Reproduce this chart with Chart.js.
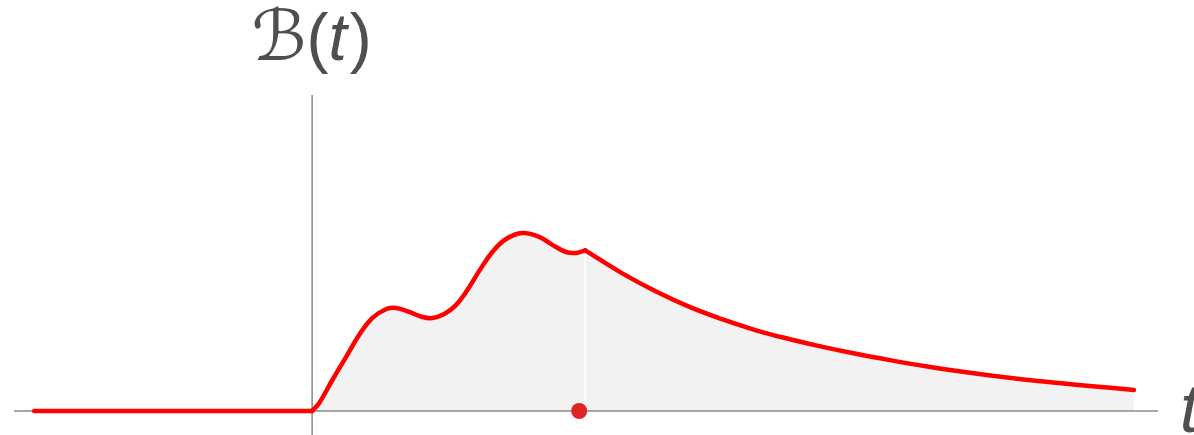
<!DOCTYPE html>
<html>
<head>
<meta charset="utf-8">
<script src="https://cdn.jsdelivr.net/npm/chart.js@4.4.0/dist/chart.umd.min.js"></script>
<style>
  html, body { margin: 0; padding: 0; background: #fff; }
  .chart-box { width: 1194px; height: 435px; position: relative; }
</style>
</head>
<body>
<div class="chart-box"><canvas id="chart"></canvas></div>
<script>
// B(t) is zero before t = 0
const flatT = [-5.09, 0];
const flatB = [0, 0];

// two bumps, up to the kink at t = 5
const riseT = [0, 0.13, 0.37, 0.62, 0.86, 1.10, 1.36, 1.54, 1.78, 2.02, 2.20, 2.42,
  2.62, 2.82, 3.06, 3.30, 3.55, 3.85, 4.16, 4.40, 4.65, 4.84, 5.0];
const riseB = [0, 0.045, 0.174, 0.303, 0.427, 0.522, 0.573, 0.579, 0.556, 0.528, 0.522, 0.545,
  0.590, 0.669, 0.787, 0.893, 0.966, 1.0, 0.978, 0.933, 0.893, 0.888, 0.902];

// decay after the kink
const decayT = [5.0, 5.68, 6.30, 6.90, 7.52, 8.13, 8.75, 9.35, 9.96, 10.63, 11.24, 11.85,
  12.46, 13.07, 13.68, 14.29, 15.05];
const decayB = [0.902, 0.773, 0.671, 0.586, 0.514, 0.453, 0.403, 0.360, 0.321, 0.283, 0.251, 0.223,
  0.198, 0.176, 0.157, 0.139, 0.118];

// marked point on the t axis
const markT = [4.89];
const markB = [0];

const yTitle = ['ℬ', '(', 't', ')'];
const xTitle = 't';

const toPoints = (ts, bs) => ts.map((t, i) => ({ x: t, y: bs[i] }));

const RED = '#ff0000';
const FILL = '#f2f2f2';
const AXIS = '#8a8a8a';
const TEXT = '#4f4f4f';

const curve = (ts, bs, tension) => ({
  data: toPoints(ts, bs),
  borderColor: RED,
  borderWidth: 4.5,
  borderCapStyle: 'round',
  borderJoinStyle: 'round',
  backgroundColor: FILL,
  fill: 'origin',
  pointRadius: 0,
  tension: tension
});

const axesPlugin = {
  id: 'axes',
  beforeDatasetsDraw(chart) {
    const { ctx, chartArea, scales: { x, y } } = chart;
    const x0 = x.getPixelForValue(0);
    const y0 = y.getPixelForValue(0);
    ctx.save();
    ctx.strokeStyle = AXIS;
    ctx.lineWidth = 1.5;
    ctx.beginPath();
    ctx.moveTo(chartArea.left, y0);
    ctx.lineTo(chartArea.right, y0);
    ctx.moveTo(x0, chartArea.top);
    ctx.lineTo(x0, chartArea.bottom);
    ctx.stroke();

    // thin white rule dropped from the kink
    const kx = x.getPixelForValue(decayT[0]);
    ctx.strokeStyle = '#ffffff';
    ctx.lineWidth = 1.5;
    ctx.beginPath();
    ctx.moveTo(kx, y0 - 1);
    ctx.lineTo(kx, y.getPixelForValue(decayB[0]));
    ctx.stroke();
    ctx.restore();
  },
  afterDraw(chart) {
    const { ctx, chartArea, scales: { x, y } } = chart;
    const x0 = x.getPixelForValue(0);
    const y0 = y.getPixelForValue(0);
    ctx.save();
    ctx.fillStyle = TEXT;
    ctx.textBaseline = 'alphabetic';
    ctx.textAlign = 'left';

    const fonts = ['70px "DejaVu Sans"', '66px "Liberation Sans"', 'italic 66px "Liberation Sans"', '66px "Liberation Sans"'];
    let w = 0;
    yTitle.forEach((s, i) => { ctx.font = fonts[i]; w += ctx.measureText(s).width; });
    let cx = x0 - 2 - w / 2;
    yTitle.forEach((s, i) => {
      ctx.font = fonts[i];
      ctx.fillText(s, cx, 60);
      cx += ctx.measureText(s).width + (i === 2 ? 3 : 0);
    });

    ctx.font = 'italic 68px "Liberation Sans"';
    ctx.fillText(xTitle, chartArea.right + 22, y0 + 21);
    ctx.restore();
  }
};

new Chart(document.getElementById('chart'), {
  type: 'line',
  data: {
    datasets: [
      curve(flatT, flatB, 0),
      curve(riseT, riseB, 0.4),
      curve(decayT, decayB, 0.4),
      {
        data: toPoints(markT, markB),
        showLine: false,
        pointRadius: 8,
        pointBackgroundColor: '#e02424',
        pointBorderWidth: 0
      }
    ]
  },
  options: {
    responsive: true,
    maintainAspectRatio: false,
    animation: false,
    layout: { autoPadding: false, padding: { left: 14, right: 36, top: 95, bottom: 0 } },
    scales: {
      x: { type: 'linear', min: -5.46, max: 15.49, display: false },
      y: { type: 'linear', min: -0.135, max: 1.775, display: false }
    },
    plugins: {
      legend: { display: false },
      tooltip: { enabled: false },
      filler: { drawTime: 'beforeDraw' }
    }
  },
  plugins: [axesPlugin]
});
</script>
</body>
</html>
